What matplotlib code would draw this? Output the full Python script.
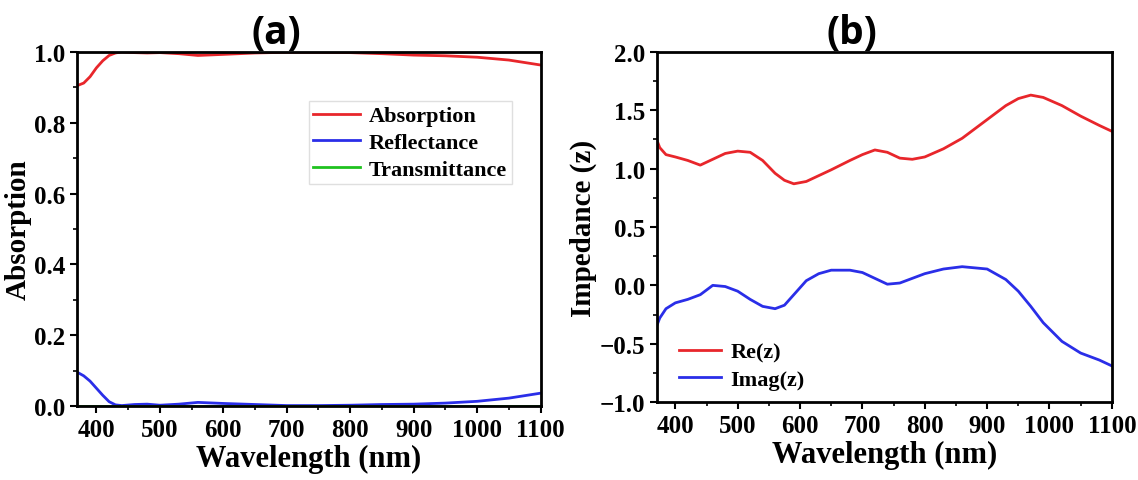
import matplotlib.pyplot as plt
from matplotlib.ticker import MultipleLocator

# panel (a) data
wl_a = [370, 380, 390, 400, 410, 420, 430, 440, 460, 480, 500, 530, 560, 600, 650, 700,
        750, 800, 850, 900, 950, 1000, 1050, 1100]
absorption = [0.905, 0.912, 0.93, 0.955, 0.975, 0.99, 0.997, 1.0, 0.998, 0.997, 0.998, 0.995,
              0.99, 0.993, 0.997, 0.999, 0.999, 0.998, 0.995, 0.991, 0.989, 0.985, 0.977, 0.963]
reflectance = [0.095, 0.085, 0.07, 0.05, 0.03, 0.012, 0.003, 0.001, 0.004, 0.005, 0.002, 0.005,
               0.01, 0.007, 0.004, 0.001, 0.001, 0.002, 0.004, 0.005, 0.008, 0.013, 0.022, 0.036]
transmittance = [0.0] * len(wl_a)

# panel (b) data
wl_b = [370, 375, 385, 400, 420, 440, 460, 480, 500, 520, 540, 560, 575, 590, 610, 630, 650,
        680, 700, 720, 740, 760, 780, 800, 830, 860, 900, 930, 950, 970, 990, 1020, 1050,
        1080, 1100]
re_z = [1.25, 1.18, 1.12, 1.1, 1.07, 1.03, 1.08, 1.13, 1.15, 1.14, 1.07, 0.96, 0.9, 0.87,
        0.89, 0.94, 0.99, 1.07, 1.12, 1.16, 1.14, 1.09, 1.08, 1.1, 1.17, 1.26, 1.42, 1.54,
        1.6, 1.63, 1.61, 1.54, 1.45, 1.37, 1.32]
imag_z = [-0.35, -0.28, -0.2, -0.15, -0.12, -0.08, 0.0, -0.01, -0.05, -0.12, -0.18, -0.2,
          -0.17, -0.08, 0.04, 0.1, 0.13, 0.13, 0.11, 0.06, 0.01, 0.02, 0.06, 0.1, 0.14,
          0.16, 0.14, 0.05, -0.05, -0.18, -0.32, -0.48, -0.58, -0.64, -0.69]

plt.rcParams['font.family'] = 'Liberation Serif'
plt.rcParams['font.weight'] = 'bold'

fig = plt.figure(figsize=(11.38, 4.81), dpi=100)
ax1 = fig.add_axes([0.068, 0.154, 0.407, 0.736])
ax2 = fig.add_axes([0.577, 0.162, 0.4, 0.728])

ax1.plot(wl_a, absorption, color='#e8262b', lw=2, label='Absorption')
ax1.plot(wl_a, reflectance, color='#2a2ee8', lw=2, label='Reflectance')
ax1.plot(wl_a, transmittance, color='#1fc21f', lw=2, label='Transmittance')
ax1.set_ylim(0, 1.0)
ax1.yaxis.set_major_locator(MultipleLocator(0.2))
ax1.yaxis.set_minor_locator(MultipleLocator(0.1))
ax1.set_ylabel('Absorption', fontsize=21, fontweight='bold', labelpad=2)
leg = ax1.legend(loc='upper left', bbox_to_anchor=(0.5, 0.86), fontsize=16,
                 frameon=True, fancybox=False, handlelength=2.1, borderaxespad=0,
                 labelspacing=0.28, borderpad=0.2, handletextpad=0.4)
leg.get_frame().set_edgecolor('#d8d8d8')
leg.get_frame().set_linewidth(1)

ax2.plot(wl_b, re_z, color='#e8262b', lw=2, label='Re(z)')
ax2.plot(wl_b, imag_z, color='#2a2ee8', lw=2, label='Imag(z)')
ax2.set_ylim(-1.0, 2.0)
ax2.yaxis.set_major_locator(MultipleLocator(0.5))
ax2.yaxis.set_minor_locator(MultipleLocator(0.25))
ax2.set_ylabel('Impedance (z)', fontsize=21, fontweight='bold', labelpad=2)
ax2.legend(loc='lower left', bbox_to_anchor=(0.03, 0.01), fontsize=16, frameon=False,
           handlelength=1.9, labelspacing=0.28, handletextpad=0.4, borderaxespad=0)

for ax, title in [(ax1, '(a)'), (ax2, '(b)')]:
    ax.set_xlim(370, 1100)
    ax.xaxis.set_major_locator(MultipleLocator(100))
    ax.xaxis.set_minor_locator(MultipleLocator(50))
    ax.set_xlabel('Wavelength (nm)', fontsize=22, fontweight='bold', labelpad=2)
    ax.tick_params(which='major', direction='out', length=5, width=1.5, labelsize=18)
    ax.tick_params(which='minor', direction='out', length=3, width=1.2)
    for s in ax.spines.values():
        s.set_linewidth(2)
    ax.set_title(title, fontsize=28, fontweight='bold', family='Open Sans', pad=4, x=0.43)

fig.savefig('out.png', dpi=100)
